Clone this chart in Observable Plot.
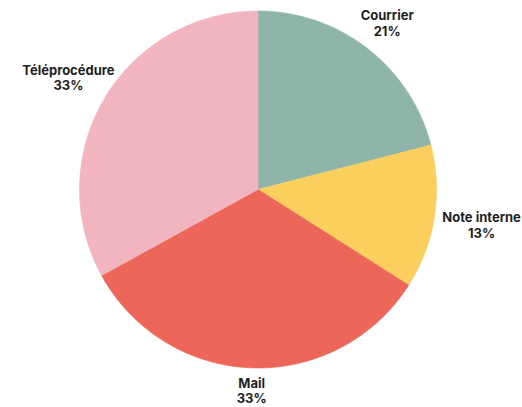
<!DOCTYPE html>
<html><head><meta charset="utf-8">
<script src="https://cdn.jsdelivr.net/npm/d3@7"></script>
<script src="https://cdn.jsdelivr.net/npm/@observablehq/plot@0.6"></script>
<style>body{margin:0;background:#fff}</style>
</head><body><div id="chart"></div>
<script>
const categories = ["Courrier", "Note interne", "Mail", "Téléprocédure"];
const values = [21, 13, 33, 33];
const colors = ["#8fb5ab", "#fbcf5e", "#ec6759", "#f2b5c0"];

const W = 522, H = 407, R = 178.5, cx = 257.5, cy = 189;
const arcs = d3.pie().sort(null).value(d => d)(values);
const pts = [];
const labels = [];
arcs.forEach((a, i) => {
  const cat = categories[i];
  pts.push({cat, x: 0, y: 0});
  const n = Math.max(2, Math.ceil((a.endAngle - a.startAngle) / 0.01));
  for (let k = 0; k <= n; k++) {
    const t = a.startAngle + (a.endAngle - a.startAngle) * k / n;
    pts.push({cat, x: Math.sin(t), y: Math.cos(t)});
  }
  pts.push({cat, x: 0, y: 0});
  const m = (a.startAngle + a.endAngle) / 2;
  const s = Math.sin(m);
  const r = (201 + 26 * s * s) / R;
  labels.push({x: r * Math.sin(m), y: r * Math.cos(m), text: `${cat}\n${values[i]}%`});
});

const chart = Plot.plot({
  width: W, height: H,
  marginTop: 0, marginRight: 0, marginBottom: 0, marginLeft: 0,
  x: {domain: [-cx / R, (W - cx) / R], axis: null},
  y: {domain: [-(H - cy) / R, cy / R], axis: null},
  color: {domain: categories, range: colors},
  marks: [
    Plot.line(pts, {x: "x", y: "y", z: "cat", fill: "cat", stroke: "cat", strokeWidth: 0.6}),
    Plot.text(labels, {x: "x", y: "y", text: "text", fontSize: 13, fontWeight: 700,
      fontFamily: "Inter, Roboto, sans-serif", lineHeight: 1.2, fill: "#1f1f1f"})
  ]
});
document.getElementById("chart").appendChild(chart);
</script>
</body></html>
